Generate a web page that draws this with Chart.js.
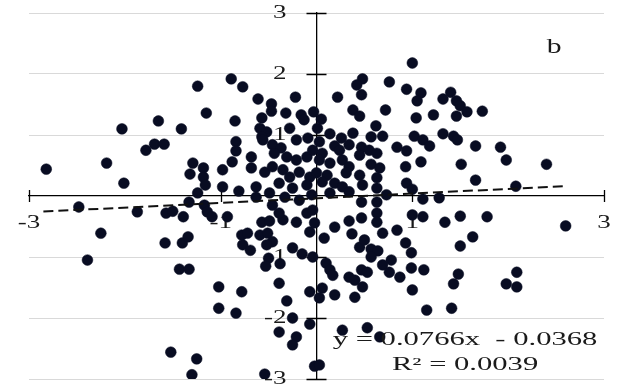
<!DOCTYPE html>
<html>
<head>
<meta charset="utf-8">
<script src="https://cdn.jsdelivr.net/npm/chart.js@4/dist/chart.umd.min.js"></script>
<style>
  html, body { margin: 0; padding: 0; background: #fff; }
  #wrap { width: 620px; height: 387px; position: relative; }
</style>
</head>
<body>
<div id="wrap"><canvas id="scatterChart"></canvas></div>
<script>
// Sample points (x, y pairs share an index)
const pointX = [
  -2.82, -2.19, -2.01, -2.03, -1.78, -1.69, -1.59, -1.65, -1.41, -2.48,
  -2.25, -2.39, -1.87, -1.57, -1.50, -1.39, -1.58, -1.40, -1.34, -1.43,
  -1.33, -1.52, -1.25, -1.30, -1.32, -1.29, -1.24, -0.89, -0.77, -1.15,
  -0.61, -0.85, -1.18, -1.18, -1.16, -0.98, -0.88, -0.84, -0.84, -0.68,
  -0.68, -0.98, -0.81, -0.63, -1.24, -1.33, -1.17, -1.14, -1.09, -0.93,
  -1.02, -0.78, -1.02, -0.84, -0.78, -0.72, -0.77, -0.69, -0.63, -0.59,
  -0.52, -0.57, -0.57, -0.47, -0.47, -0.32, -0.22, -0.16, -0.03, -0.13,
  -0.28, -0.56, -0.46, -0.37, -0.21, -0.09, -0.54, -0.44, -0.31, -0.21,
  -0.10, -0.04, -0.46, -0.35, -0.28, -0.18, -0.07, -0.39, -0.25, -0.10,
  -0.49, -0.57, -0.49, -0.35, -0.21, -0.39, -0.46, -0.10, -0.04, -0.59,
  -0.51, -0.46, -0.52, -0.25, -0.15, -0.04, -0.07, -0.50, -0.53, -0.38,
  -0.39, -0.31, -0.07, -0.25, -0.07, -0.39, -0.21, -0.25, -0.02, -0.54,
  -0.18, -0.05, -0.33, 0.01,
  1.00, 0.48, 0.42, 0.76, 0.22, 0.47, 0.94, 1.09, 1.05, 1.40,
  1.32, 1.46, 1.50, 1.57, 1.46, 1.73, 0.38, 0.45, 0.72, 0.05,
  1.04, 1.22, 0.62, 0.14, 0.26, 0.38, 0.57, 0.69, 1.02, 1.32,
  1.43, 1.47, 1.11, 1.18, 0.84, 0.94, 1.66, 1.92, 0.47, 0.34,
  0.19, 0.03, 0.06, 0.24, 0.45, 0.55, 0.63, 0.03, 0.14, 0.27,
  0.34, 0.57, 0.66, 1.09, 0.93, 1.51, 1.98, 2.40, 0.00, 0.11,
  0.31, 0.45, 0.63, 0.06, 0.19, 0.27, 0.48, 0.63, 0.94, 1.00,
  1.66, 2.08, 0.14, 0.34, 0.47, 0.63, 0.73, 1.11, 1.28,
  -0.02, 0.08, 0.19, 0.34, 0.47, 0.63, 0.63, 1.00, 1.11, 1.34,
  1.50, 1.78, 2.60, 0.37, 0.45, 0.50, 0.57, 0.64, 0.57, 0.69,
  0.84, 0.93, 0.99, 1.50, 1.63, 0.10, 0.14, 0.17, 0.34, 0.40,
  0.47, 0.53, 0.69, 0.78, 0.76, 0.87, 0.99, 1.12, 1.48, 1.43,
  2.09, 1.98, 2.09, 0.48, 0.40, 0.06, 0.03, 0.19, 1.00, 1.15,
  1.41, 0.27, 0.53, 0.66, 0.03
];
const pointY = [
  0.44, 0.54, 0.21, 1.10, 0.75, 0.85, 0.85, 1.23, 1.10, -0.18,
  -0.61, -1.05, -0.26, -0.28, -0.25, -0.34, -0.77, -0.77, -0.67, -1.20,
  -1.20, -2.56, -2.67, -2.93, 0.36, 0.54, 1.80, 1.92, 1.79, 1.36,
  1.59, 1.23, 0.46, 0.31, 0.18, 0.43, 0.56, 0.89, 0.74, 0.64,
  0.46, 0.15, 0.08, 0.15, 0.05, -0.10, -0.15, -0.26, -0.34, -0.34,
  -1.49, -1.57, -1.84, -1.92, -0.64, -0.61, -0.80, -0.89, -0.02, 1.11,
  1.05, 0.97, 1.28, 1.51, 1.39, 1.36, 1.62, 1.33, 1.38, 1.25,
  1.11, 0.92, 0.84, 0.79, 0.92, 0.95, 0.39, 0.70, 0.64, 0.59,
  0.64, 0.75, 0.48, 0.43, 0.31, 0.39, 0.31, 0.21, 0.13, 0.18,
  0.05, -0.43, -0.41, -0.39, -0.43, -0.28, -0.15, -0.28, -0.23, -0.64,
  -0.61, -0.75, -0.80, -0.85, -0.95, -1.00, -0.59, -1.02, -1.15, -1.11,
  -1.43, -1.72, -1.57, -2.00, -2.10, -2.23, -2.31, -2.44, -2.79, -2.92,
  -0.07, 0.02, -0.02, 1.11,
  2.18, 1.92, 1.82, 1.87, 1.62, 1.66, 1.75, 1.69, 1.56, 1.70,
  1.59, 1.56, 1.48, 1.38, 1.31, 1.39, 1.41, 1.31, 1.41, 1.26,
  1.28, 1.33, 1.15, 1.02, 0.95, 1.03, 0.97, 0.98, 0.98, 1.02,
  0.98, 0.92, 0.92, 0.82, 0.80, 0.74, 0.82, 0.80, 0.80, 0.84,
  0.82, 0.89, 0.70, 0.75, 0.67, 0.75, 0.70, 0.59, 0.54, 0.59,
  0.48, 0.52, 0.46, 0.56, 0.48, 0.52, 0.59, 0.52, 0.38, 0.34,
  0.38, 0.34, 0.30, 0.23, 0.21, 0.15, 0.18, 0.13, 0.21, 0.11,
  0.26, 0.16, 0.05, 0.07, -0.10, -0.10, 0.02, -0.05, -0.03,
  -0.44, -0.69, -0.51, -0.41, -0.36, -0.28, -0.43, -0.31, -0.34, -0.43,
  -0.33, -0.34, -0.49, -0.62, -0.84, -0.72, -0.87, -0.90, -1.00, -0.61,
  -0.56, -0.77, -0.93, -0.82, -0.67, -1.10, -1.21, -1.30, -1.33, -1.38,
  -1.21, -1.25, -1.13, -1.05, -1.25, -1.33, -1.18, -1.21, -1.28, -1.44,
  -1.25, -1.44, -1.49, -1.49, -1.66, -1.51, -1.67, -1.62, -1.54, -1.87,
  -1.84, -2.20, -2.16, -2.31, -2.77
];

// Linear fit shown on the plot
const slope = 0.0766;
const intercept = -0.0368;
const fitRange = [-2.85, 2.61];
const eqLines = ['y = 0.0766x  - 0.0368', 'R\u00b2 = 0.0039'];
const panelLabel = 'b';

// Axis ticks
const xTicks = [-3, -1, 1, 3];
const xTickLabels = ['-3', '-1', '1', '3'];
const yTicks = [3, 2, 1, -1, -2, -3];
const yTickLabels = ['3', '2', '1', '-1', '-2', '-3'];

const points = pointX.map((x, i) => ({ x: x, y: pointY[i] }));
const fitLine = fitRange.map(x => ({ x: x, y: slope * x + intercept }));

const DOT_COLOR = '#080c22';
const SERIF = '"Liberation Serif", "Times New Roman", serif';
const TEXT_COLOR = '#1a1a1a';
const STRETCH = 1.5;

// draw wide serif text at x, y
function wideText(ctx, text, x, y, size, align, stretch) {
  ctx.save();
  ctx.font = size + 'px ' + SERIF;
  ctx.fillStyle = TEXT_COLOR;
  ctx.textAlign = align;
  ctx.textBaseline = 'middle';
  ctx.translate(x, y);
  ctx.scale(stretch, 1);
  ctx.fillText(text, 0, 0);
  ctx.restore();
}

// crossing tick marks, tick labels, panel letter and fit equation
const axisDecor = {
  id: 'axisDecor',
  beforeDatasetsDraw(chart) {
    const ctx = chart.ctx;
    const xs = chart.scales.x, ys = chart.scales.y;
    const x0 = xs.getPixelForValue(0), y0 = ys.getPixelForValue(0);
    ctx.save();
    ctx.strokeStyle = '#000';
    ctx.lineWidth = 1.3;
    ctx.beginPath();
    xTicks.forEach(v => {
      const px = Math.round(xs.getPixelForValue(v)) + 0.5;
      ctx.moveTo(px, y0 - 6);
      ctx.lineTo(px, y0 + 6);
    });
    yTicks.forEach(v => {
      const py = Math.round(ys.getPixelForValue(v)) + 0.5;
      ctx.moveTo(x0 - 10, py);
      ctx.lineTo(x0 + 10, py);
    });
    ctx.stroke();
    ctx.restore();

    xTicks.forEach((v, i) => {
      wideText(ctx, xTickLabels[i], xs.getPixelForValue(v), y0 + 27, 18, 'center', STRETCH);
    });
    yTicks.forEach((v, i) => {
      wideText(ctx, yTickLabels[i], x0 - 30, ys.getPixelForValue(v), 18, 'right', STRETCH);
    });
  },
  afterDatasetsDraw(chart) {
    const ctx = chart.ctx;
    const xs = chart.scales.x, ys = chart.scales.y;
    wideText(ctx, panelLabel, xs.getPixelForValue(2.48), ys.getPixelForValue(2.44), 22, 'center', 1.35);
    wideText(ctx, eqLines[0], xs.getPixelForValue(1.55), ys.getPixelForValue(-2.37), 18, 'center', 1.7);
    wideText(ctx, eqLines[1], xs.getPixelForValue(1.55), ys.getPixelForValue(-2.78), 18, 'center', 1.7);
  }
};

const ctx = document.getElementById('scatterChart').getContext('2d');
const scatterChart = new Chart(ctx, {
  type: 'scatter',
  data: {
    datasets: [
      {
        type: 'line',
        data: fitLine,
        borderColor: '#111',
        borderWidth: 2,
        borderDash: [10, 5],
        pointRadius: 0,
        fill: false,
        order: 0
      },
      {
        data: points,
        pointStyle: 'circle',
        pointRadius: 5.4,
        pointHoverRadius: 5.4,
        pointBackgroundColor: DOT_COLOR,
        pointBorderColor: DOT_COLOR,
        pointBorderWidth: 0.5,
        order: 1
      }
    ]
  },
  options: {
    responsive: true,
    maintainAspectRatio: false,
    animation: false,
    layout: { padding: { left: 29, top: 13, right: 16, bottom: 8 } },
    plugins: { legend: { display: false }, tooltip: { enabled: false } },
    scales: {
      x: {
        type: 'linear', min: -3, max: 3,
        position: { y: 0 },
        grid: { display: false, drawTicks: false },
        border: { display: true, color: '#000', width: 1.3 },
        ticks: { display: false, stepSize: 1 }
      },
      y: {
        type: 'linear', min: -3, max: 3,
        position: { x: 0 },
        grid: {
          drawTicks: false,
          color: c => (c.tick && c.tick.value === 0 ? 'rgba(0,0,0,0)' : '#d9d9d9'),
          lineWidth: 1
        },
        border: { display: true, color: '#000', width: 1.3 },
        ticks: { display: false, stepSize: 1 }
      }
    }
  },
  plugins: [axisDecor]
});
</script>
</body>
</html>
